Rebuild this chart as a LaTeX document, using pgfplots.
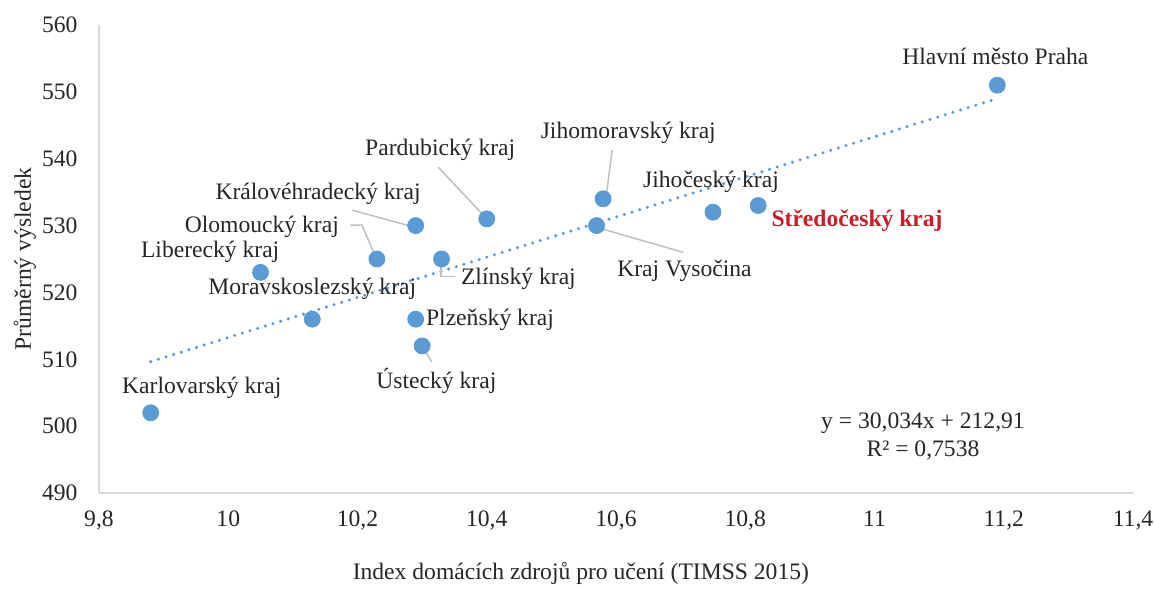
\documentclass[border=0pt]{standalone}
\usepackage{pgfplots}
\pgfplotsset{compat=1.18}
\usepackage{fontspec}
\setmainfont{Liberation Serif}
\definecolor{mblue}{HTML}{5B9BD5}
\definecolor{axgray}{HTML}{D9D9D9}
\definecolor{leader}{HTML}{BFBFBF}
\definecolor{sred}{HTML}{C81E28}
\begin{document}
\fontsize{11.8}{14}\selectfont
\begin{tikzpicture}
\useasboundingbox (-49.5pt,-47.5pt) rectangle (527.5pt,246.5pt);
\begin{axis}[
  scale only axis, width=517pt, height=234pt,
  xmin=9.8, xmax=11.4, ymin=490, ymax=560,
  xtick={9.8,10,10.2,10.4,10.6,10.8,11,11.2,11.4},
  ytick={490,500,510,520,530,540,550,560},
  xticklabel={\rmfamily\pgfmathprintnumber[assume math mode=true, use comma, 1000 sep={}]{\tick}},
  yticklabel={\rmfamily\pgfmathprintnumber[assume math mode=true, 1000 sep={}]{\tick}},
  axis x line=bottom, axis y line=left,
  axis line style={axgray, line width=0.8pt, -},
  major tick length=0pt,
  clip=false,
  tick label style={font=\rmfamily\fontsize{11.8}{14}\selectfont, text=black!85},
  xticklabel style={yshift=-4.6pt},
  yticklabel style={xshift=-6.6pt},
  xlabel={Index domácích zdrojů pro učení (TIMSS 2015)},
  ylabel={Průměrný výsledek},
  label style={font=\fontsize{11.8}{14}\selectfont, text=black!85},
  xlabel style={at={(axis description cs:0.466,-0.173)}, anchor=center},
  ylabel style={at={(axis description cs:-0.0716,0.5)}, anchor=center, rotate=0},
]
% trendline
\addplot[mblue, line width=1.7pt, line cap=round, dash pattern=on 0pt off 4pt]
  coordinates {(9.88,509.65) (11.19,549.0)};
% leader lines
\addplot[leader, line width=0.75pt] coordinates {(10.594,541.27) (10.585,534.5)};
\addplot[leader, line width=0.75pt] coordinates {(10.325,538.73) (10.399,531.1)};
\addplot[leader, line width=0.75pt] coordinates {(10.192,532.3) (10.288,529.76)};
\addplot[leader, line width=0.75pt] coordinates {(10.189,530.06) (10.207,530.06) (10.229,525.1)};
\addplot[leader, line width=0.75pt] coordinates {(10.329,524.5) (10.329,522.4) (10.351,522.4)};
\addplot[leader, line width=0.75pt] coordinates {(10.3,512) (10.315,509.6)};
\addplot[leader, line width=0.75pt] coordinates {(10.569,529.76) (10.704,526.0)};
% data
\addplot[only marks, mark=*, mark size=4pt, mark options={fill=mblue, draw=mblue}]
  coordinates {
  (9.88,502) (10.05,523) (10.13,516) (10.23,525) (10.29,530) (10.29,516)
  (10.30,512) (10.33,525) (10.40,531) (10.57,530) (10.58,534) (10.75,532)
  (10.82,533) (11.19,551)
  };
% labels
\begin{scope}[every node/.style={font=\fontsize{11.8}{14}\selectfont, text=black!85, inner sep=0pt}]
\node at (axis cs:11.187,555.3) {Hlavní město Praha};
\node at (axis cs:10.619,543.8) {Jihomoravský kraj};
\node at (axis cs:10.328,541.3) {Pardubický kraj};
\node at (axis cs:10.139,534.8) {Královéhradecký kraj};
\node at (axis cs:10.052,529.8) {Olomoucký kraj};
\node at (axis cs:9.972,526.0) {Liberecký kraj};
\node at (axis cs:10.13,520.5) {Moravskoslezský kraj};
\node at (axis cs:10.449,522.1) {Zlínský kraj};
\node at (axis cs:10.405,515.9) {Plzeňský kraj};
\node at (axis cs:10.322,506.7) {Ústecký kraj};
\node at (axis cs:9.959,505.8) {Karlovarský kraj};
\node at (axis cs:10.747,536.6) {Jihočeský kraj};
\node at (axis cs:10.706,523.3) {Kraj Vysočina};
\node[text=sred, font=\fontsize{11.8}{14}\selectfont\bfseries] at (axis cs:10.973,530.8) {Středočeský kraj};
\node[align=center] at (axis cs:11.075,498.4) {y = 30,034x + 212,91\\R² = 0,7538};
\end{scope}
\end{axis}
\end{tikzpicture}
\end{document}
